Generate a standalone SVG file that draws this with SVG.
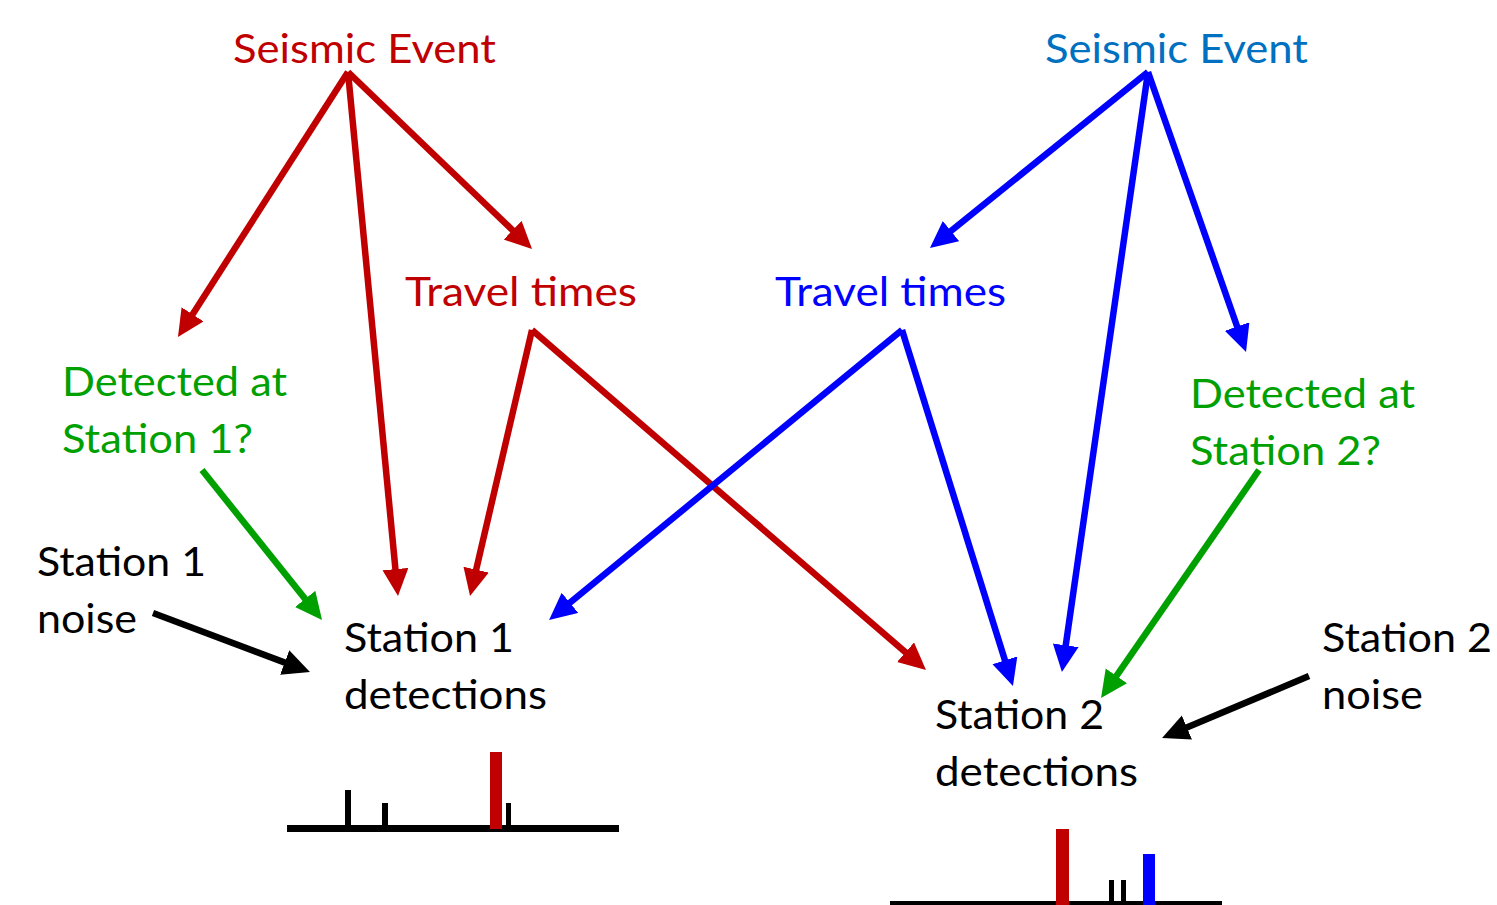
<svg xmlns="http://www.w3.org/2000/svg" width="1497" height="905" viewBox="0 0 1497 905">
<style>
text{font-family:Lato,"Liberation Sans",sans-serif;font-size:40px}
.r{fill:#C00000}.b{fill:#0000FF}.lb{fill:#0070C0}.g{fill:#00A000}.k{fill:#000}
.ar{stroke-width:6.5;fill:none}
</style>
<defs>
<marker id="mr" markerUnits="userSpaceOnUse" markerWidth="30" markerHeight="28" refX="6" refY="13" orient="auto"><path d="M0,0 L27,13 L0,26 Z" fill="#C00000"/></marker>
<marker id="mb" markerUnits="userSpaceOnUse" markerWidth="30" markerHeight="28" refX="6" refY="13" orient="auto"><path d="M0,0 L27,13 L0,26 Z" fill="#0000FF"/></marker>
<marker id="mg" markerUnits="userSpaceOnUse" markerWidth="30" markerHeight="28" refX="6" refY="13" orient="auto"><path d="M0,0 L27,13 L0,26 Z" fill="#00A000"/></marker>
<marker id="mk" markerUnits="userSpaceOnUse" markerWidth="30" markerHeight="28" refX="6" refY="13" orient="auto"><path d="M0,0 L27,13 L0,26 Z" fill="#000"/></marker>
</defs>
<g id="connectors">
<g stroke="#C00000" class="ar" marker-end="url(#mr)">
<line x1="348" y1="72" x2="189.3" y2="319.4"/>
<line x1="348" y1="72" x2="396.0" y2="575.1"/>
<line x1="348" y1="72" x2="516.9" y2="234.4"/>
<line x1="532" y1="330" x2="474.8" y2="575.5"/>
<line x1="532" y1="330" x2="910.1" y2="656.2"/>
</g>
<g stroke="#0000FF" class="ar" marker-end="url(#mb)">
<line x1="1148" y1="72" x2="946.3" y2="234.8"/>
<line x1="1148" y1="72" x2="1064.9" y2="651.2"/>
<line x1="1148" y1="72" x2="1239.1" y2="332.2"/>
<line x1="902" y1="330" x2="565.3" y2="606.6"/>
<line x1="902" y1="330" x2="1006.7" y2="666.0"/>
</g>
<g stroke="#00A000" class="ar" marker-end="url(#mg)">
<line x1="202" y1="470" x2="308.9" y2="603.6"/>
<line x1="1259" y1="470" x2="1113.0" y2="680.8"/>
</g>
<g stroke="#000" class="ar" marker-end="url(#mk)">
<line x1="153" y1="613" x2="290.3" y2="664.6"/>
<line x1="1309" y1="676" x2="1181.4" y2="729.8"/>
</g>
</g>
<g id="event-red"><text class="r" x="233" y="63" textLength="263" lengthAdjust="spacingAndGlyphs">Seismic Event</text></g>
<g id="event-blue"><text class="lb" x="1045" y="63" textLength="263" lengthAdjust="spacingAndGlyphs">Seismic Event</text></g>
<g id="travel-red"><text class="r" x="405" y="306" textLength="232" lengthAdjust="spacingAndGlyphs">Travel times</text></g>
<g id="travel-blue"><text class="b" x="775" y="306" textLength="231" lengthAdjust="spacingAndGlyphs">Travel times</text></g>
<g id="detected-1"><text class="g" x="62" y="396" textLength="225" lengthAdjust="spacingAndGlyphs">Detected at</text><text class="g" x="62" y="453" textLength="191" lengthAdjust="spacingAndGlyphs">Station 1?</text></g>
<g id="detected-2"><text class="g" x="1190" y="408" textLength="225" lengthAdjust="spacingAndGlyphs">Detected at</text><text class="g" x="1190" y="465" textLength="191" lengthAdjust="spacingAndGlyphs">Station 2?</text></g>
<g id="noise-1"><text class="k" x="37" y="576" textLength="169" lengthAdjust="spacingAndGlyphs">Station 1</text><text class="k" x="37" y="633" textLength="100" lengthAdjust="spacingAndGlyphs">noise</text></g>
<g id="det-1"><text class="k" x="344" y="652" textLength="170" lengthAdjust="spacingAndGlyphs">Station 1</text><text class="k" x="344" y="709" textLength="203" lengthAdjust="spacingAndGlyphs">detections</text></g>
<g id="det-2"><text class="k" x="935" y="729" textLength="169" lengthAdjust="spacingAndGlyphs">Station 2</text><text class="k" x="935" y="786" textLength="203" lengthAdjust="spacingAndGlyphs">detections</text></g>
<g id="noise-2"><text class="k" x="1322" y="652" textLength="170" lengthAdjust="spacingAndGlyphs">Station 2</text><text class="k" x="1322" y="709" textLength="101" lengthAdjust="spacingAndGlyphs">noise</text></g>
<g id="chart-1">
<rect x="287" y="825" width="332" height="7" fill="#000"/>
<rect x="345" y="790" width="6" height="36" fill="#000"/>
<rect x="382" y="803" width="6" height="23" fill="#000"/>
<rect x="506" y="803" width="5" height="23" fill="#000"/>
<rect x="490" y="752" width="12" height="77" fill="#C00000"/>
</g>
<g id="chart-2">
<rect x="890" y="901" width="332" height="4" fill="#000"/>
<rect x="1056" y="829" width="13" height="76" fill="#C00000"/>
<rect x="1109" y="880" width="5" height="22" fill="#000"/>
<rect x="1121" y="880" width="5" height="22" fill="#000"/>
<rect x="1143" y="854" width="12" height="51" fill="#0000FF"/>
</g>
</svg>
